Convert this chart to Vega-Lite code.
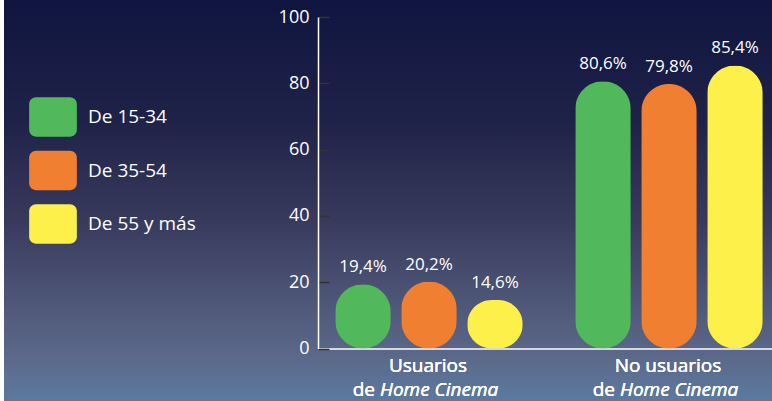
{
  "$schema": "https://vega.github.io/schema/vega-lite/v6.json",
  "width": 768,
  "height": 401,
  "autosize": {"type": "none"},
  "padding": {"left": 4, "top": 0, "right": 0, "bottom": 0},
  "background": "#ffffff",
  "view": {
    "stroke": null,
    "fill": {
      "gradient": "linear",
      "x1": 0, "y1": 0, "x2": 0, "y2": 1,
      "stops": [
        {"offset": 0, "color": "#0f1540"},
        {"offset": 0.3, "color": "#1f2248"},
        {"offset": 0.55, "color": "#383a5c"},
        {"offset": 0.75, "color": "#4e5677"},
        {"offset": 0.9, "color": "#5c6a8c"},
        {"offset": 1, "color": "#5b7a9f"}
      ]
    }
  },
  "config": {
    "font": "Open Sans",
    "legend": {
      "orient": "none",
      "legendX": 25,
      "legendY": 93,
      "padding": 0,
      "title": null,
      "symbolType": "M-0.71,-0.824L0.71,-0.824A0.29,0.29,0,0,1,1,-0.534L1,0.534A0.29,0.29,0,0,1,0.71,0.824L-0.71,0.824A0.29,0.29,0,0,1,-1,0.534L-1,-0.534A0.29,0.29,0,0,1,-0.71,-0.824Z",
      "symbolSize": 2275,
      "symbolStrokeWidth": 0,
      "symbolOpacity": 1,
      "labelFont": "Open Sans",
      "labelFontSize": 19,
      "labelColor": "#ffffff",
      "labelOffset": 11,
      "labelLimit": 0,
      "rowPadding": 9.5
    }
  },
  "data": {
    "values": [
      {"grupo": "Usuarios", "edad": "De 15-34", "valor": 19.4, "etiqueta": "19,4%"},
      {"grupo": "Usuarios", "edad": "De 35-54", "valor": 20.2, "etiqueta": "20,2%"},
      {"grupo": "Usuarios", "edad": "De 55 y más", "valor": 14.6, "etiqueta": "14,6%"},
      {"grupo": "No usuarios", "edad": "De 15-34", "valor": 80.6, "etiqueta": "80,6%"},
      {"grupo": "No usuarios", "edad": "De 35-54", "valor": 79.8, "etiqueta": "79,8%"},
      {"grupo": "No usuarios", "edad": "De 55 y más", "valor": 85.4, "etiqueta": "85,4%"}
    ]
  },
  "encoding": {
    "x": {
      "field": "grupo",
      "type": "nominal",
      "sort": ["Usuarios", "No usuarios"],
      "scale": {"range": [314, 776], "paddingInner": 0.075, "paddingOuter": 0},
      "axis": {
        "title": null,
        "labels": false,
        "ticks": false,
        "domainColor": "#ffffff",
        "domainWidth": 1.5,
        "offset": -52.5
      }
    }
  },
  "layer": [
    {
      "mark": {"type": "bar", "cornerRadius": 28},
      "encoding": {
        "y": {
          "field": "valor",
          "type": "quantitative",
          "scale": {"domain": [0, 100], "range": [348.5, 17], "nice": false},
          "axis": {
            "title": null,
            "values": [0, 20, 40, 60, 80, 100],
            "grid": false,
            "offset": -314,
            "domainColor": "#ffffff",
            "domainWidth": 1.5,
            "tickColor": "#333333",
            "tickWidth": 1.5,
            "tickSize": -11,
            "labelPadding": 20,
            "labelColor": "#ffffff",
            "labelFont": "Open Sans",
            "labelFontSize": 18
          }
        },
        "xOffset": {
          "field": "edad",
          "type": "nominal",
          "sort": ["De 15-34", "De 35-54", "De 55 y más"],
          "scale": {"paddingInner": 0.159, "paddingOuter": 0.2615}
        },
        "color": {
          "field": "edad",
          "type": "nominal",
          "sort": ["De 15-34", "De 35-54", "De 55 y más"],
          "scale": {"range": ["#51b95b", "#f17f31", "#fef04b"]}
        }
      }
    },
    {
      "mark": {"type": "text", "baseline": "alphabetic", "dy": -12, "fontSize": 17, "color": "#ffffff", "font": "Open Sans"},
      "encoding": {
        "y": {"field": "valor", "type": "quantitative"},
        "xOffset": {
          "field": "edad",
          "type": "nominal",
          "sort": ["De 15-34", "De 35-54", "De 55 y más"]
        },
        "text": {"field": "etiqueta"}
      }
    },
    {
      "mark": {"type": "text", "baseline": "alphabetic", "dx": -1, "fontSize": 19, "color": "#ffffff", "font": "Open Sans"},
      "encoding": {
        "y": {"datum": -7, "type": "quantitative"},
        "text": {"field": "grupo"}
      }
    },
    {
      "mark": {"type": "text", "baseline": "alphabetic", "align": "right", "dx": -54, "fontSize": 19, "color": "#ffffff", "font": "Open Sans"},
      "encoding": {
        "y": {"datum": -14.35, "type": "quantitative"},
        "text": {"value": "de"}
      }
    },
    {
      "mark": {"type": "text", "baseline": "alphabetic", "align": "left", "dx": -49, "fontSize": 19, "fontStyle": "italic", "color": "#ffffff", "font": "Open Sans"},
      "encoding": {
        "y": {"datum": -14.35, "type": "quantitative"},
        "text": {"value": "Home Cinema"}
      }
    }
  ]
}
